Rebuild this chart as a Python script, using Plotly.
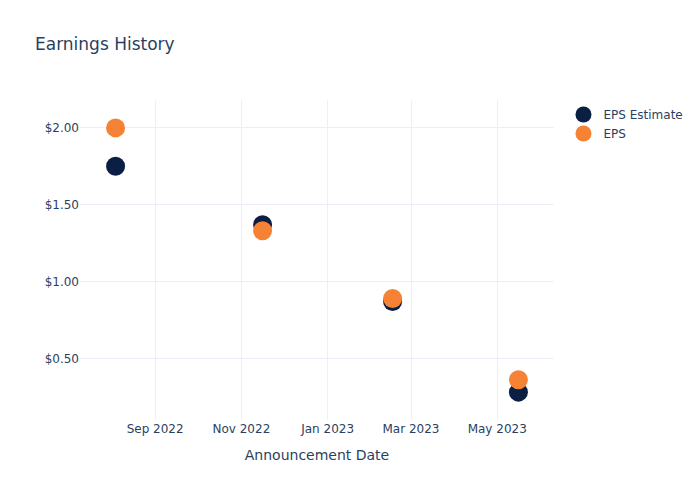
import plotly.graph_objects as go

dates = ["2022-08-04", "2022-11-16", "2023-02-16", "2023-05-16"]
eps_estimate = [1.75, 1.37, 0.87, 0.28]
eps_actual = [2.00, 1.33, 0.89, 0.36]

fig = go.Figure()
fig.add_trace(go.Scatter(x=dates, y=eps_estimate, mode="markers", name="EPS Estimate",
                         marker=dict(color="#0b1f44", size=19)))
fig.add_trace(go.Scatter(x=dates, y=eps_actual, mode="markers", name="EPS",
                         marker=dict(color="#f58235", size=19)))
fig.update_layout(
    template="plotly_white",
    width=700, height=500,
    title=dict(text="Earnings History"),
    font=dict(family="DejaVu Sans"),
    xaxis=dict(title=dict(text="Announcement Date"), dtick="M2", tickformat="%b %Y"),
    yaxis=dict(tickformat="$.2f"),
)
fig.write_html("out.html")
